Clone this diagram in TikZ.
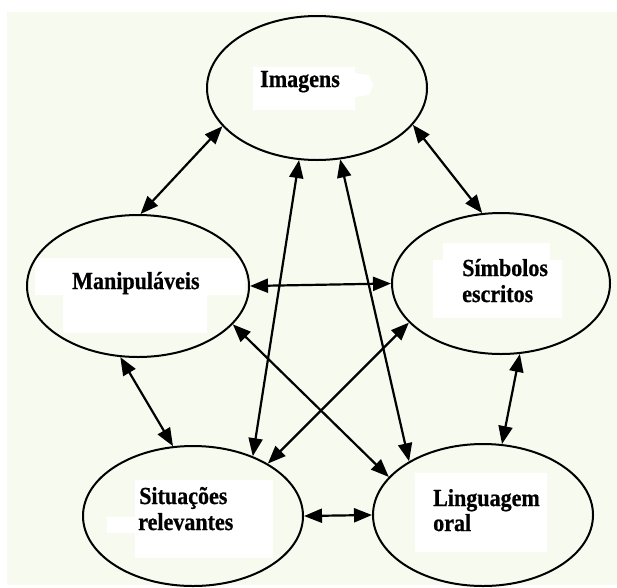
\documentclass[tikz,border=0pt]{standalone}
\usepackage{fontspec}
\setmainfont{Liberation Serif}
\newfontfamily\lblfont{Liberation Serif}[FakeStretch=0.9, BoldFeatures={FakeBold=0.7}]
\usetikzlibrary{shapes.geometric,arrows.meta}
\definecolor{paper}{RGB}{247,250,238}
\tikzset{
  ring/.style={draw, ellipse, line width=2pt, inner sep=0pt},
  link/.style={{Triangle[length=18pt,width=14pt]}-{Triangle[length=18pt,width=14pt]}, line width=2.2pt},
  lbl/.style={anchor=base west, inner sep=0pt, font=\lblfont\fontsize{24.5}{26}\selectfont\bfseries},
  patch/.style={fill=white, draw=none}
}
\begin{document}
\begin{tikzpicture}[x=1pt,y=-1pt]
\useasboundingbox (0,0) rectangle (617,587);
% paper sheet
\fill[paper] (7,12) rectangle (617,585);
% white label backings
\fill[patch] (253,67) rectangle (355,110);
\fill[patch] (355,73) -- (369,75) -- (373,85) -- (369,95) -- (355,97) -- cycle;
\fill[patch] (35,258) rectangle (245,295);
\fill[patch] (63,295) rectangle (207,333);
\fill[patch] (443,243) rectangle (550,260);
\fill[patch] (433,260) rectangle (562,318);
\fill[patch] (135,480) rectangle (273,558);
\fill[patch] (107,517) rectangle (135,533);
\fill[patch] (415,473) rectangle (547,552);

% ellipses
\node[ring, minimum width=220pt, minimum height=144pt] (img) at (317,88) {};
\node[ring, minimum width=222pt, minimum height=142pt] (man) at (138,286) {};
\node[ring, minimum width=218pt, minimum height=141pt] (sim) at (501,283.5) {};
\node[ring, minimum width=220pt, minimum height=140pt] (sit) at (193,516) {};
\node[ring, minimum width=220pt, minimum height=142pt] (lin) at (483,515) {};

% labels
\node[lbl] (timg) at (260,87) {Imagens};
\node[lbl] (tman) at (72,289) {Manipuláveis};
\node[lbl] (tsim1) at (462,276) {Símbolos};
\node[lbl] (tsim2) at (462,302) {escritos};
\node[lbl] (tsit1) at (139,504) {Situações};
\node[lbl] (tsit2) at (138,530) {relevantes};
\node[lbl] (tlin1) at (433,506) {Linguagem};
\node[lbl] (tlin2) at (433,531) {oral};

% two-way connections
\draw[link] (img.202) -- (man.88);
\draw[link] (img.339) -- (sim.105.6);
\draw[link] (img.256.5) -- (sit.45);
\draw[link] (img.288) -- (lin.144);
\draw[link] (man.0) -- (sim.180);
\draw[link] (man.338) -- (lin.158.6);
\draw[link] (sim.203) -- (sit.35.6);
\draw[link] (man.256) -- (sit.106);
\draw[link] (sim.285) -- (lin.75);
\draw[link] (sit.0) -- (lin.180);
\end{tikzpicture}
\end{document}
